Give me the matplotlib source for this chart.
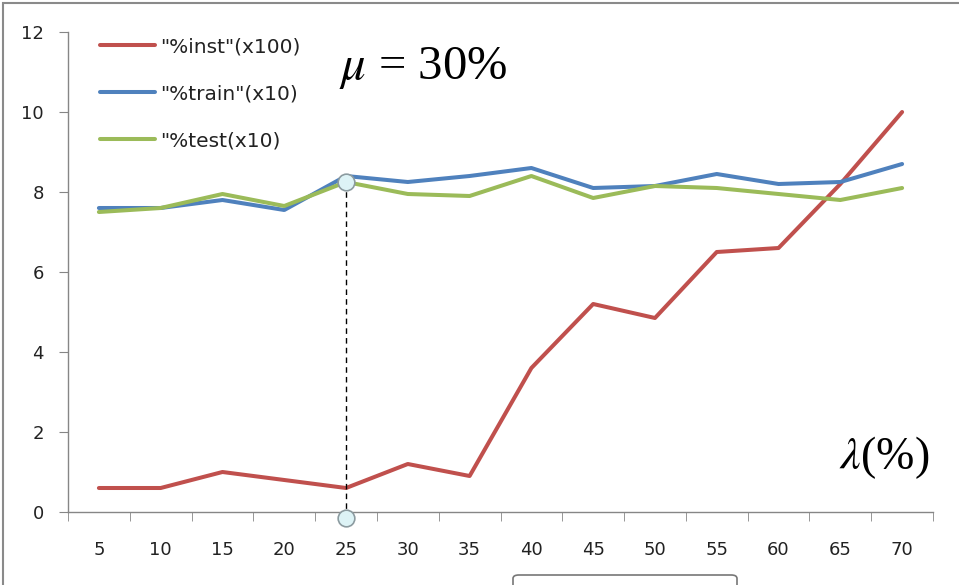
import matplotlib
matplotlib.use("Agg")
import matplotlib.pyplot as plt
from matplotlib.patches import Rectangle, FancyBboxPatch

# lambda (%) categories
lam = [5, 10, 15, 20, 25, 30, 35, 40, 45, 50, 55, 60, 65, 70]
inst = [0.6, 0.6, 1.0, 0.8, 0.6, 1.2, 0.9, 3.6, 5.2, 4.85, 6.5, 6.6, 8.2, 10.0]
train = [7.6, 7.6, 7.8, 7.55, 8.4, 8.25, 8.4, 8.6, 8.1, 8.15, 8.45, 8.2, 8.25, 8.7]
test = [7.5, 7.6, 7.95, 7.65, 8.25, 7.95, 7.9, 8.4, 7.85, 8.15, 8.1, 7.95, 7.8, 8.1]
labels = ['"%inst"(x100)', '"%train"(x10)', '"%test(x10)']

# picked point
pick_lam = 25
pick_val = 8.25

plt.rcParams['mathtext.fontset'] = 'stix'

fig = plt.figure(figsize=(9.59, 5.85), dpi=100)
ax = fig.add_axes([68/959, 1 - 512/585, 865/959, 480/585])

x = list(range(len(lam)))
ax.plot(x, inst, color='#C0504D', lw=2.9, label=labels[0], solid_capstyle='round')
ax.plot(x, train, color='#4F81BD', lw=2.9, label=labels[1], solid_capstyle='round')
ax.plot(x, test, color='#9BBB59', lw=2.9, label=labels[2], solid_capstyle='round')

# dashed drop line with marker circles
i = lam.index(pick_lam)
ax.plot([i, i], [pick_val, 0], color='black', lw=1.0, ls=(0, (4, 3)), zorder=4)
ax.plot([i], [pick_val], 'o', ms=12, mfc='#DDF3F6', mec='#8C9BA0', mew=1.2, zorder=5)
ax.plot([i], [-0.15], 'o', ms=12, mfc='#DDF3F6', mec='#8C9BA0', mew=1.2, zorder=5,
        clip_on=False)

ax.set_xlim(-0.5, len(lam) - 0.5)
ax.set_ylim(0, 12)
ax.set_xticks(x)
ax.set_xticklabels([str(v) for v in lam])
ax.set_xticks([k - 0.5 for k in range(len(lam) + 1)], minor=True)
ax.set_yticks(range(0, 13, 2))

for s in ['top', 'right']:
    ax.spines[s].set_visible(False)
for s in ['left', 'bottom']:
    ax.spines[s].set_color('#868686')
    ax.spines[s].set_linewidth(1.0)

ax.tick_params(axis='x', which='major', length=0, pad=21, labelsize=13, colors='#222222')
ax.tick_params(axis='x', which='minor', length=6.5, direction='out', color='#868686')
ax.tick_params(axis='y', length=6.5, direction='out', color='#868686', labelsize=13,
               labelcolor='#222222', pad=11)

leg = ax.legend(loc='upper left', bbox_to_anchor=(92/959, 1 - 29/585),
                bbox_transform=fig.transFigure, borderaxespad=0, frameon=False,
                fontsize=14.5, handlelength=2.75, handletextpad=0.25, labelspacing=1.4)
for t in leg.get_texts():
    t.set_color('#222222')

ax.text(423/959, 1 - 68/585, r'$\mu$ = 30%', transform=fig.transFigure, fontsize=35,
        family='Liberation Serif', ha='center', va='center')
ax.text(884/959, 1 - 458/585, r'$\lambda$(%)', transform=fig.transFigure, fontsize=33,
        family='Liberation Serif', ha='center', va='center')

# outer frame of the screenshot
fig.add_artist(Rectangle((3/959, -0.1), 1.0, 1.1 - 3/585, transform=fig.transFigure,
                         fill=False, ec='#8A8A8A', lw=1.5))
fig.add_artist(FancyBboxPatch((513/959, 1 - 590/585), 224/959, 15/585,
                              boxstyle='round,pad=0,rounding_size=0.006',
                              transform=fig.transFigure, fill=False, ec='#777777', lw=1.2))

fig.savefig('out.png', dpi=100)
plt.close()
